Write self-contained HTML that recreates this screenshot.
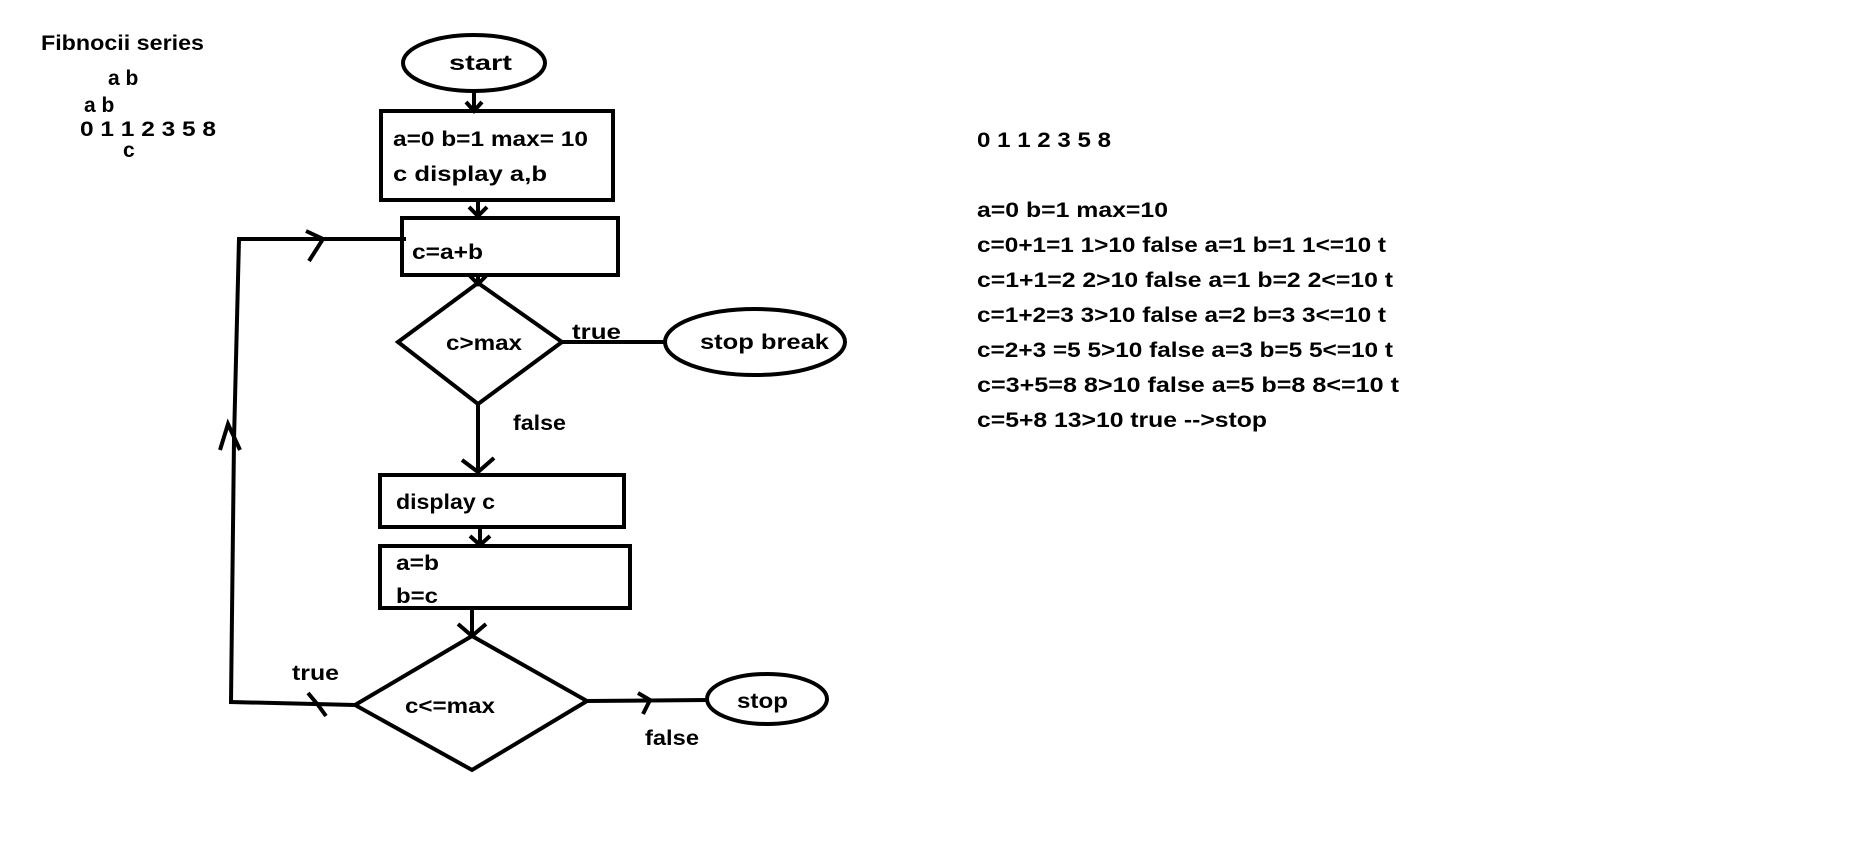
<!DOCTYPE html>
<html><head><meta charset="utf-8"><style>
html,body{margin:0;padding:0;background:#fff;}
svg{display:block}
text{font-family:"Liberation Sans",sans-serif;font-weight:bold;font-size:21px;fill:#000}
</style></head><body>
<svg width="1865" height="846" viewBox="0 0 1865 846" xmlns="http://www.w3.org/2000/svg">
<g fill="none" stroke="#000" stroke-width="4">
<ellipse cx="474" cy="63" rx="71" ry="28"/>
<rect x="381" y="111" width="232" height="89"/>
<rect x="402" y="218" width="216" height="57"/>
<polygon points="398,342 478,283 562,342 478,404"/>
<ellipse cx="755" cy="342" rx="90" ry="33"/>
<rect x="380" y="475" width="244" height="52"/>
<rect x="380" y="546" width="250" height="62"/>
<polygon points="355,705 472,636 587,701 472,770"/>
<ellipse cx="767" cy="699" rx="60" ry="25"/>
<!-- connectors -->
<line x1="474" y1="91" x2="474" y2="111"/>
<polyline points="466,102 474,111 482,102"/>
<line x1="478" y1="200" x2="478" y2="218"/>
<polyline points="469,207 478,216 487,207"/>
<line x1="478" y1="275" x2="478" y2="283"/>
<polyline points="470,276 478,284 486,276"/>
<line x1="562" y1="342" x2="664" y2="342"/>
<line x1="478" y1="404" x2="478" y2="474"/>
<polyline points="462,460 478,472 494,458"/>
<line x1="480" y1="527" x2="480" y2="546"/>
<polyline points="470,536 480,545 490,536"/>
<line x1="472" y1="608" x2="472" y2="636"/>
<polyline points="458,624 472,636 486,624"/>
<line x1="587" y1="701" x2="707" y2="700"/>
<polyline points="638,693 650,700 643,714"/>
<polyline points="355,705 231,702 234,440 239,239 406,239"/>
<polyline points="308,693 318,705 326,716"/>
<polyline points="220,450 228,424 240,450"/>
<polyline points="306,231 323,239 309,261"/>
</g>
<text x="41" y="50" textLength="163" lengthAdjust="spacingAndGlyphs">Fibnocii series</text>
<text x="108" y="85">a b</text>
<text x="84" y="112">a b</text>
<text x="80" y="136" textLength="136" lengthAdjust="spacingAndGlyphs">0 1 1 2 3 5 8</text>
<text x="123" y="157">c</text>
<text x="449" y="70" textLength="63" lengthAdjust="spacingAndGlyphs">start</text>
<text x="393" y="146" textLength="195" lengthAdjust="spacingAndGlyphs">a=0 b=1 max= 10</text>
<text x="393" y="181" textLength="154" lengthAdjust="spacingAndGlyphs">c  display a,b</text>
<text x="412" y="259" textLength="71" lengthAdjust="spacingAndGlyphs">c=a+b</text>
<text x="446" y="350" textLength="76" lengthAdjust="spacingAndGlyphs">c&gt;max</text>
<text x="572" y="339" textLength="49" lengthAdjust="spacingAndGlyphs">true</text>
<text x="700" y="349" textLength="129" lengthAdjust="spacingAndGlyphs">stop  break</text>
<text x="513" y="430" textLength="53" lengthAdjust="spacingAndGlyphs">false</text>
<text x="396" y="509" textLength="99" lengthAdjust="spacingAndGlyphs">display c</text>
<text x="396" y="570" textLength="43" lengthAdjust="spacingAndGlyphs">a=b</text>
<text x="396" y="603" textLength="42" lengthAdjust="spacingAndGlyphs">b=c</text>
<text x="292" y="680" textLength="47" lengthAdjust="spacingAndGlyphs">true</text>
<text x="405" y="713" textLength="90" lengthAdjust="spacingAndGlyphs">c&lt;=max</text>
<text x="737" y="708" textLength="51" lengthAdjust="spacingAndGlyphs">stop</text>
<text x="645" y="745" textLength="54" lengthAdjust="spacingAndGlyphs">false</text>
<text x="977" y="147" textLength="134" lengthAdjust="spacingAndGlyphs">0 1 1 2 3 5 8</text>
<text x="977" y="217" textLength="191" lengthAdjust="spacingAndGlyphs">a=0 b=1 max=10</text>
<text x="977" y="252" textLength="409" lengthAdjust="spacingAndGlyphs">c=0+1=1 1&gt;10 false a=1 b=1 1&lt;=10 t</text>
<text x="977" y="287" textLength="416" lengthAdjust="spacingAndGlyphs">c=1+1=2  2&gt;10 false a=1 b=2 2&lt;=10 t</text>
<text x="977" y="322" textLength="409" lengthAdjust="spacingAndGlyphs">c=1+2=3 3&gt;10 false a=2 b=3 3&lt;=10 t</text>
<text x="977" y="357" textLength="416" lengthAdjust="spacingAndGlyphs">c=2+3 =5 5&gt;10 false a=3 b=5 5&lt;=10 t</text>
<text x="977" y="392" textLength="422" lengthAdjust="spacingAndGlyphs">c=3+5=8  8&gt;10 false  a=5 b=8 8&lt;=10 t</text>
<text x="977" y="427" textLength="290" lengthAdjust="spacingAndGlyphs">c=5+8 13&gt;10 true --&gt;stop</text>
</svg>
</body></html>
